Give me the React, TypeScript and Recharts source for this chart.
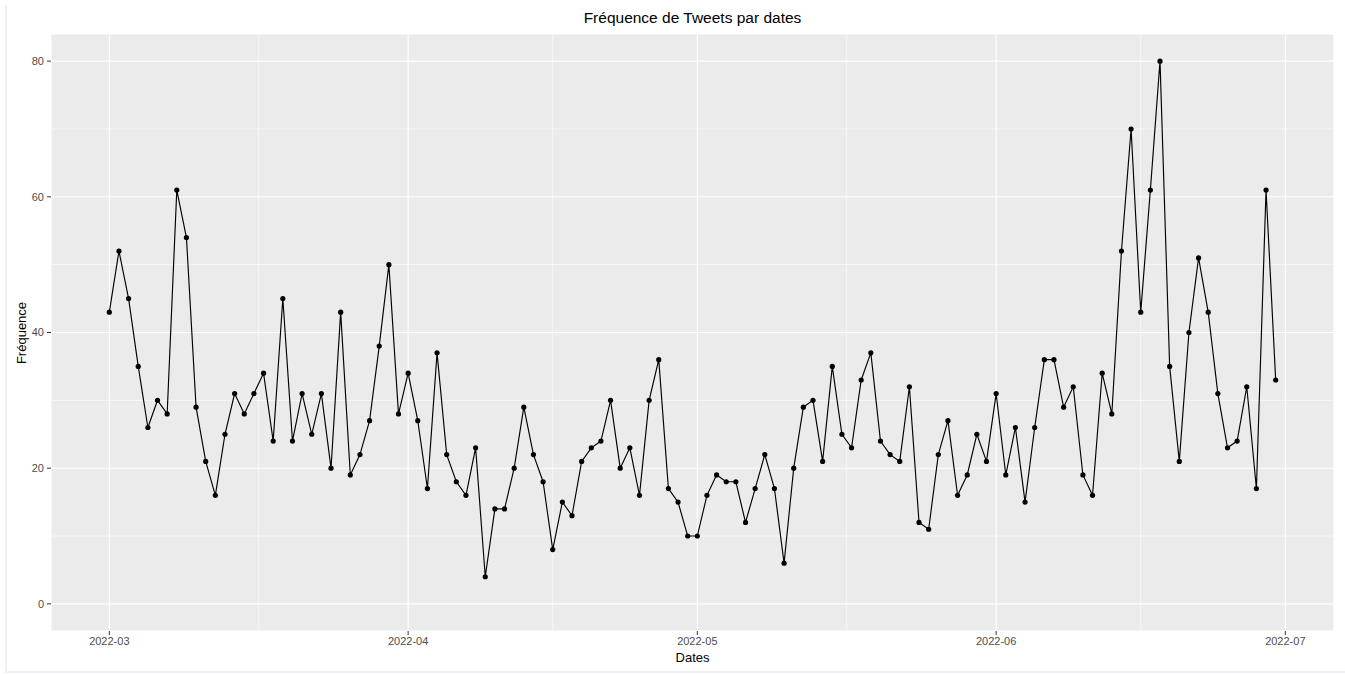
import React from 'react';
import { LineChart, Line, XAxis, YAxis, CartesianGrid, ReferenceLine } from 'recharts';

// daily tweet counts, one array per month (starting on the 1st)
const marchCounts = [43, 52, 45, 35, 26, 30, 28, 61, 54, 29, 21, 16, 25, 31, 28, 31, 34, 24, 45, 24, 31, 25, 31, 20, 43, 19, 22, 27, 38, 50, 28];
const aprilCounts = [34, 27, 17, 37, 22, 18, 16, 23, 4, 14, 14, 20, 29, 22, 18, 8, 15, 13, 21, 23, 24, 30, 20, 23, 16, 30, 36, 17, 15, 10];
const mayCounts = [10, 16, 19, 18, 18, 12, 17, 22, 17, 6, 20, 29, 30, 21, 35, 25, 23, 33, 37, 24, 22, 21, 32, 12, 11, 22, 27, 16, 19, 25, 21];
const juneCounts = [31, 19, 26, 15, 26, 36, 36, 29, 32, 19, 16, 34, 28, 52, 70, 43, 61, 80, 35, 21, 40, 51, 43, 31, 23, 24, 32, 17, 61, 33];

// x ticks: day offset from 2022-03-01
const monthTickDays = [0, 31, 61, 92, 122];
const monthTickLabels = ['2022-03', '2022-04', '2022-05', '2022-06', '2022-07'];
const minorTickDays = [15.5, 46, 76.5, 107];
const yTicks = [0, 20, 40, 60, 80];
const yMinorTicks = [10, 30, 50, 70];

const data = [...marchCounts, ...aprilCounts, ...mayCounts, ...juneCounts].map((count, i) => ({
  day: i,
  count,
}));

const font = '"Liberation Sans", Arial, sans-serif';

export default function App() {
  const tickStyle = { fill: '#4D4D4D', stroke: 'none', fontSize: 11, fontFamily: font };

  return (
    <div style={{ position: 'absolute', left: 0, top: 0, width: 1345, height: 674, background: '#fff' }}>
      <div
        style={{
          position: 'absolute',
          left: 5,
          top: 5,
          width: 1340,
          height: 666,
          borderLeft: '2px solid #EDF0F6',
          borderBottom: '2px solid #EDF0F6',
        }}
      />
      <div style={{ position: 'absolute', left: 0, top: 0 }}>
        <LineChart width={1345} height={674} data={data} margin={{ top: 34, right: 11, left: 0, bottom: 0 }}>
          <CartesianGrid fill="#EBEBEB" stroke="#FFFFFF" strokeWidth={1.1} />
          {minorTickDays.map(d => (
            <ReferenceLine key={'vx' + d} x={d} stroke="#FFFFFF" strokeWidth={0.6} />
          ))}
          {yMinorTicks.map(v => (
            <ReferenceLine key={'hy' + v} y={v} stroke="#FFFFFF" strokeWidth={0.6} />
          ))}
          <XAxis
            type="number"
            dataKey="day"
            domain={[-6.05, 127.05]}
            ticks={monthTickDays}
            tickFormatter={(v: number) => monthTickLabels[monthTickDays.indexOf(v)]}
            allowDataOverflow
            axisLine={false}
            tickLine={{ stroke: '#333333' }}
            tickSize={4}
            tickMargin={2}
            tick={tickStyle}
            height={43}
          />
          <YAxis
            type="number"
            domain={[-4, 84]}
            ticks={yTicks}
            allowDataOverflow
            axisLine={false}
            tickLine={{ stroke: '#333333' }}
            tickSize={4}
            tickMargin={3}
            tick={tickStyle}
            width={51}
          />
          <Line
            type="linear"
            dataKey="count"
            stroke="#000000"
            strokeWidth={1.15}
            dot={{ r: 2.6, fill: '#000000', stroke: '#000000', strokeWidth: 0 }}
            activeDot={false}
            isAnimationActive={false}
          />
        </LineChart>
      </div>
      <div
        style={{
          position: 'absolute',
          left: 0,
          width: 1385,
          top: 9.6,
          textAlign: 'center',
          fontFamily: font,
          fontSize: 15.5,
          lineHeight: 1,
          color: '#000',
        }}
      >
        Fréquence de Tweets par dates
      </div>
      <div
        style={{
          position: 'absolute',
          left: 0,
          width: 1385,
          top: 650.5,
          textAlign: 'center',
          fontFamily: font,
          fontSize: 13,
          lineHeight: 1,
          color: '#000',
        }}
      >
        Dates
      </div>
      <div
        style={{
          position: 'absolute',
          left: 21,
          top: 332.5,
          transform: 'translate(-50%, -50%) rotate(-90deg)',
          fontFamily: font,
          fontSize: 13,
          lineHeight: 1,
          color: '#000',
          whiteSpace: 'nowrap',
        }}
      >
        Fréquence
      </div>
    </div>
  );
}
